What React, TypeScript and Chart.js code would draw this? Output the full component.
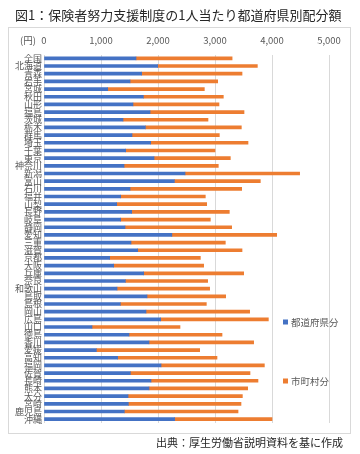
import React, { useEffect, useRef } from "react";
import { Chart, registerables } from "chart.js";

Chart.register(...registerables);

const TITLE = "図1：保険者努力支援制度の1人当たり都道府県別配分額";
const SOURCE = "出典：厚生労働省説明資料を基に作成";
const UNIT = "(円)";

const categories = [
  "全国", "北海道", "青森", "岩手", "宮城", "秋田", "山形", "福島",
  "茨城", "栃木", "群馬", "埼玉", "千葉", "東京", "神奈川", "新潟",
  "富山", "石川", "福井", "山梨", "長野", "岐阜", "静岡", "愛知",
  "三重", "滋賀", "京都", "大阪", "兵庫", "奈良", "和歌山", "鳥取",
  "島根", "岡山", "広島", "山口", "徳島", "香川", "愛媛", "高知",
  "福岡", "佐賀", "長崎", "熊本", "大分", "宮崎", "鹿児島", "沖縄",
];

// 都道府県分 (円)
const prefShare = [
  1614, 1994, 1713, 1509, 1117, 1743, 1561, 1860,
  1386, 1778, 1544, 1871, 1433, 1930, 1404, 2474,
  2287, 1509, 1345, 1275, 1538, 1345, 1421, 2243,
  1526, 1643, 1152, 1222, 1749, 1427, 1281, 1807,
  1339, 1789, 2047, 842, 1491, 1842, 918, 1292,
  2053, 1515, 1877, 1842, 1474, 1480, 1409, 2292,
];

// 市町村分 (円)
const muniShare = [
  1686, 1749, 1761, 1538, 1696, 1403, 1509, 1649,
  1491, 1684, 1532, 1708, 1567, 1339, 1654, 2011,
  1508, 1959, 1485, 1579, 1713, 1573, 1871, 1839,
  1655, 1831, 1591, 1579, 1754, 1444, 1625, 1380,
  1509, 1819, 1889, 1544, 1632, 1836, 1813, 1743,
  1813, 2099, 1877, 1731, 2006, 1976, 1995, 1708,
];

const seriesNames = ["都道府県分", "市町村分"];
const seriesColors = ["#4472C4", "#ED7D31"];
const xTicks = [0, 1000, 2000, 3000, 4000, 5000];

const FONT = '"Noto Sans CJK JP", "Noto Sans", sans-serif';

const decorPlugin = {
  id: "decor",
  beforeDraw(chart: any) {
    const ctx = chart.ctx;
    ctx.save();
    ctx.fillStyle = "#ffffff";
    ctx.fillRect(0, 0, chart.width, chart.height);
    ctx.strokeStyle = "#d9d9d9";
    ctx.lineWidth = 1;
    ctx.strokeRect(8.5, 27.5, 342, 406);
    ctx.restore();
  },
  afterDraw(chart: any) {
    const ctx = chart.ctx;
    ctx.save();
    ctx.textBaseline = "middle";
    // title
    ctx.fillStyle = "#262626";
    ctx.font = `13px ${FONT}`;
    ctx.textAlign = "left";
    ctx.fillText(TITLE, 15, 15);
    // source
    ctx.font = `11px ${FONT}`;
    ctx.textAlign = "right";
    ctx.fillText(SOURCE, 343, 443);
    // unit
    ctx.fillStyle = "#595959";
    ctx.font = `9.5px ${FONT}`;
    ctx.textAlign = "left";
    ctx.fillText(UNIT, 20, 40);
    // legend
    const legendY = [322, 381];
    ctx.font = `9.5px ${FONT}`;
    chart.data.datasets.forEach((ds: any, i: number) => {
      ctx.fillStyle = ds.backgroundColor;
      ctx.fillRect(283, legendY[i] - 2.5, 5, 5);
      ctx.fillStyle = "#595959";
      ctx.fillText(ds.label, 291, legendY[i]);
    });
    ctx.restore();
  },
};

export default function App() {
  const canvasRef = useRef<HTMLCanvasElement | null>(null);

  useEffect(() => {
    document.body.style.margin = "0";
    const canvas = canvasRef.current;
    if (!canvas) return;
    const chart = new Chart(canvas, {
      type: "bar",
      data: {
        labels: categories,
        datasets: [
          {
            label: seriesNames[0],
            data: prefShare,
            backgroundColor: seriesColors[0],
            barThickness: 3,
          },
          {
            label: seriesNames[1],
            data: muniShare,
            backgroundColor: seriesColors[1],
            barThickness: 3,
          },
        ],
      },
      options: {
        indexAxis: "y",
        animation: false,
        responsive: false,
        devicePixelRatio: 1,
        layout: { padding: { left: 0, right: 31, top: 0, bottom: 31 } },
        plugins: {
          legend: { display: false },
          tooltip: { enabled: false },
          title: { display: false },
        },
        scales: {
          x: {
            type: "linear",
            position: "top",
            stacked: true,
            min: 0,
            max: 5000,
            afterBuildTicks: (scale: any) => {
              scale.ticks = xTicks.map((v) => ({ value: v }));
            },
            afterFit: (scale: any) => {
              scale.height = 54.5;
            },
            ticks: {
              callback: (v: any) => Number(v).toLocaleString("en-US"),
              color: "#595959",
              font: { size: 9.5, family: FONT },
              padding: 8,
              maxRotation: 0,
            },
            grid: { color: "#d9d9d9", drawTicks: false },
            border: { display: false },
          },
          y: {
            type: "category",
            stacked: true,
            afterFit: (scale: any) => {
              scale.width = 44;
            },
            ticks: {
              autoSkip: false,
              color: "#595959",
              font: { size: 9, family: FONT },
              padding: 2,
            },
            grid: { display: false, drawTicks: false },
            border: { display: false },
          },
        },
      },
      plugins: [decorPlugin],
    });
    return () => chart.destroy();
  }, []);

  return (
    <div style={{ width: 360, height: 454 }}>
      <canvas ref={canvasRef} width={360} height={454} />
    </div>
  );
}
